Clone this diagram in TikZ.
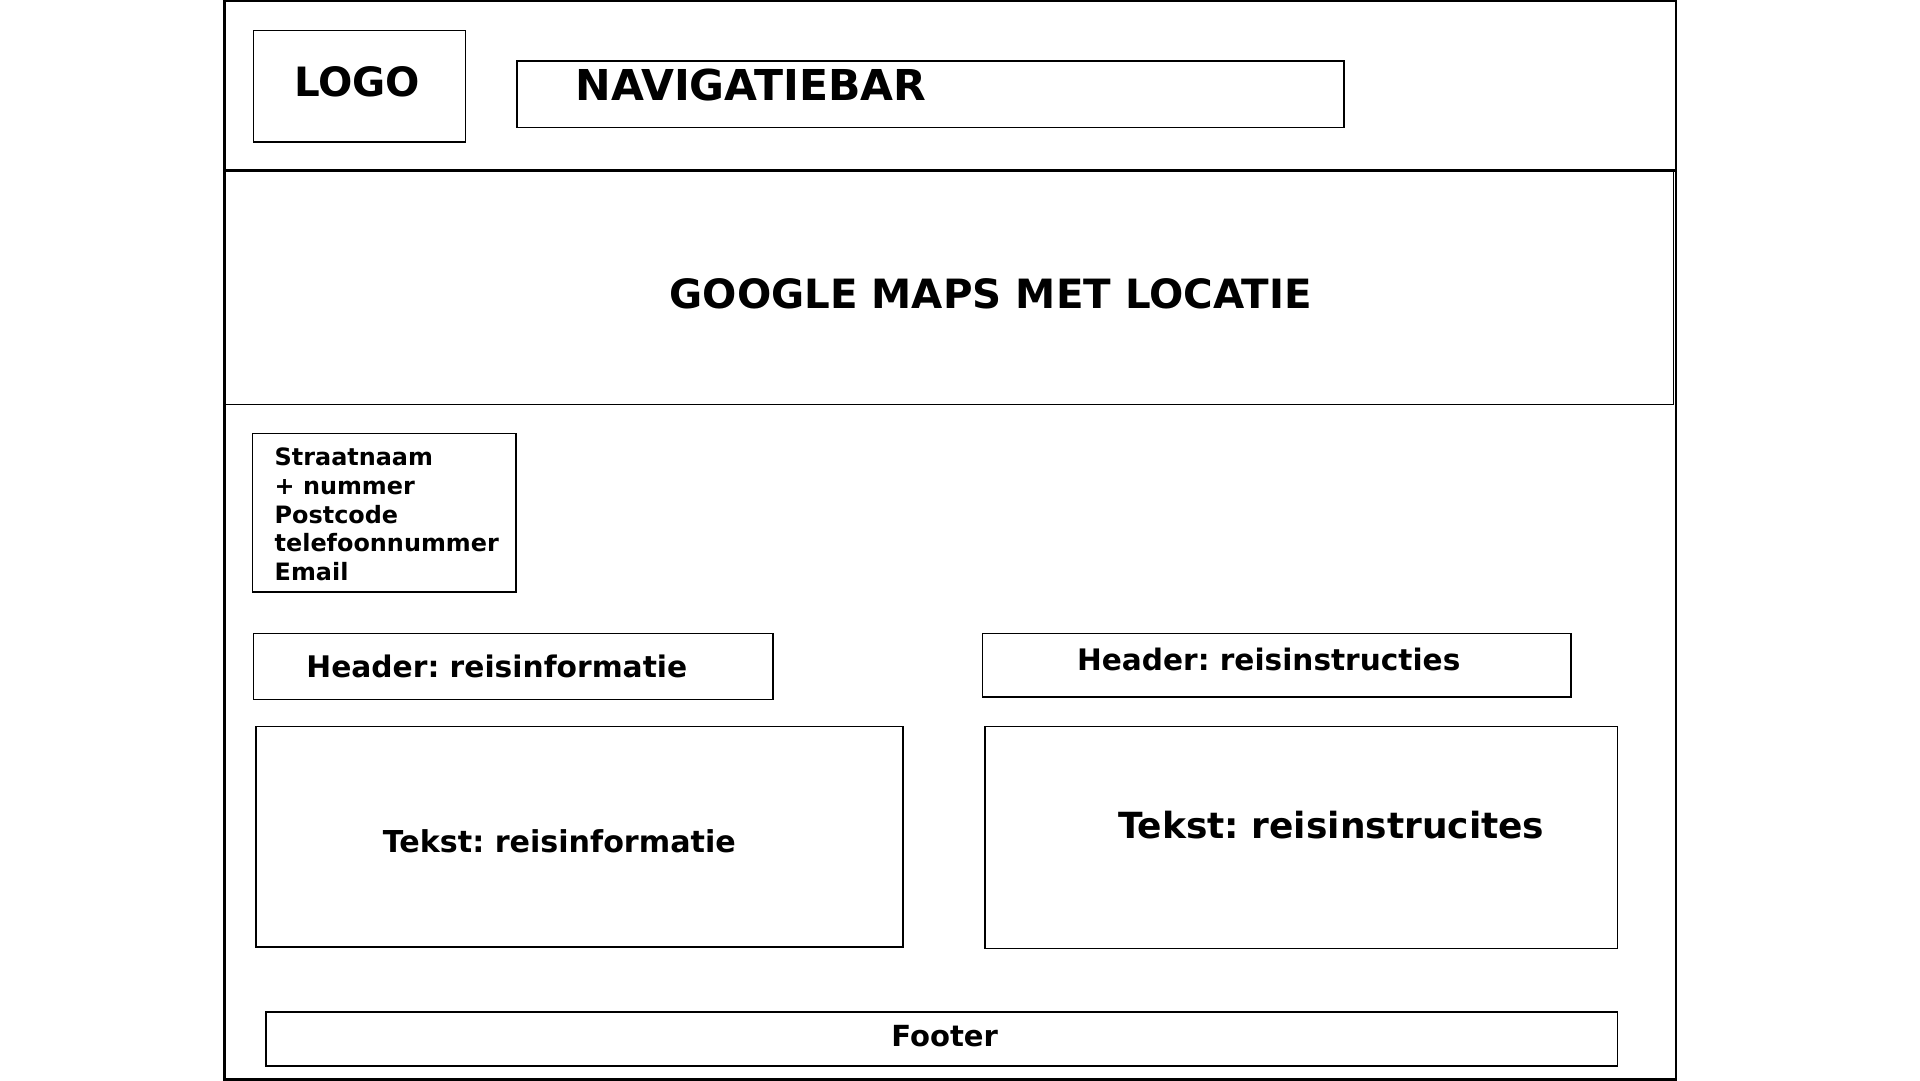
\documentclass[tikz,border=0pt]{standalone}
\usepackage{fontspec}
\setmainfont{DejaVu Sans}
\frenchspacing
\tikzset{
  box/.style={draw=black, line width=0.35pt, fill=none, inner sep=0pt, rectangle},
  thickbox/.style={draw=black, line width=0.6pt, inner sep=0pt, rectangle},
  lbl/.style={inner sep=0pt, font=\bfseries},
}
\newcommand{\fs}[1]{\fontsize{#1}{#1}\selectfont}
\begin{document}
\begin{tikzpicture}[x=1cm,y=-1cm]
\useasboundingbox (0,0) rectangle (15.67,8.815);
% outer frame
\node[thickbox, minimum width=11.85cm, minimum height=8.80cm] (frame) at (7.755,4.41) {};
\coordinate (hl) at (1.83,1.39);
\coordinate (hr) at (13.68,1.39);
\draw[line width=0.6pt] (hl) -- (hr);
% boxes
\node[box, minimum width=11.83cm, minimum height=1.90cm] (maps) at (7.745,2.35) {};
\node[box, minimum width=1.73cm, minimum height=0.91cm] (logo) at (2.935,0.705) {};
\node[box, minimum width=6.75cm, minimum height=0.54cm] (nav) at (7.595,0.77) {};
\node[box, minimum width=2.15cm, minimum height=1.29cm] (addr) at (3.135,4.185) {};
\node[box, minimum width=4.24cm, minimum height=0.54cm] (h1) at (4.19,5.44) {};
\node[box, minimum width=4.80cm, minimum height=0.52cm] (h2) at (10.42,5.43) {};
\node[box, minimum width=5.28cm, minimum height=1.80cm] (t1) at (4.73,6.83) {};
\node[box, minimum width=5.16cm, minimum height=1.81cm] (t2) at (10.62,6.835) {};
\node[box, minimum width=11.03cm, minimum height=0.44cm] (foot) at (7.685,8.48) {};
% labels
\node[lbl, anchor=base, font=\bfseries\fs{9.38}] (logot) at (2.915,0.79) {LOGO};
\node[lbl, anchor=base west, font=\bfseries\fs{9.88}] (navt) at (4.69,0.82) {NAVIGATIEBAR};
\node[lbl, anchor=base, font=\bfseries\fs{9.37}] (mapst) at (8.085,2.52) {GOOGLE MAPS MET LOCATIE};
\node[lbl, anchor=base west, font=\bfseries\fs{5.55}] (a1) at (2.235,3.80) {Straatnaam};
\node[lbl, anchor=base west, font=\bfseries\fs{5.55}] (a2) at (2.235,4.035) {+ nummer};
\node[lbl, anchor=base west, font=\bfseries\fs{5.55}] (a3) at (2.235,4.27) {Postcode};
\node[lbl, anchor=base west, font=\bfseries\fs{5.55}] (a4) at (2.235,4.505) {telefoonnummer};
\node[lbl, anchor=base west, font=\bfseries\fs{5.55}] (a5) at (2.235,4.74) {Email};
\node[lbl, anchor=base, font=\bfseries\fs{6.9}] (h1t) at (4.055,5.53) {Header: reisinformatie};
\node[lbl, anchor=base, font=\bfseries\fs{6.87}] (h2t) at (10.355,5.47) {Header: reisinstructies};
\node[lbl, anchor=base, font=\bfseries\fs{7.0}] (t1t) at (4.565,6.96) {Tekst: reisinformatie};
\node[lbl, anchor=base, font=\bfseries\fs{8.36}] (t2t) at (10.865,6.84) {Tekst: reisinstrucites};
\node[lbl, anchor=base, font=\bfseries\fs{6.75}] (foott) at (7.71,8.54) {Footer};
\end{tikzpicture}
\end{document}
